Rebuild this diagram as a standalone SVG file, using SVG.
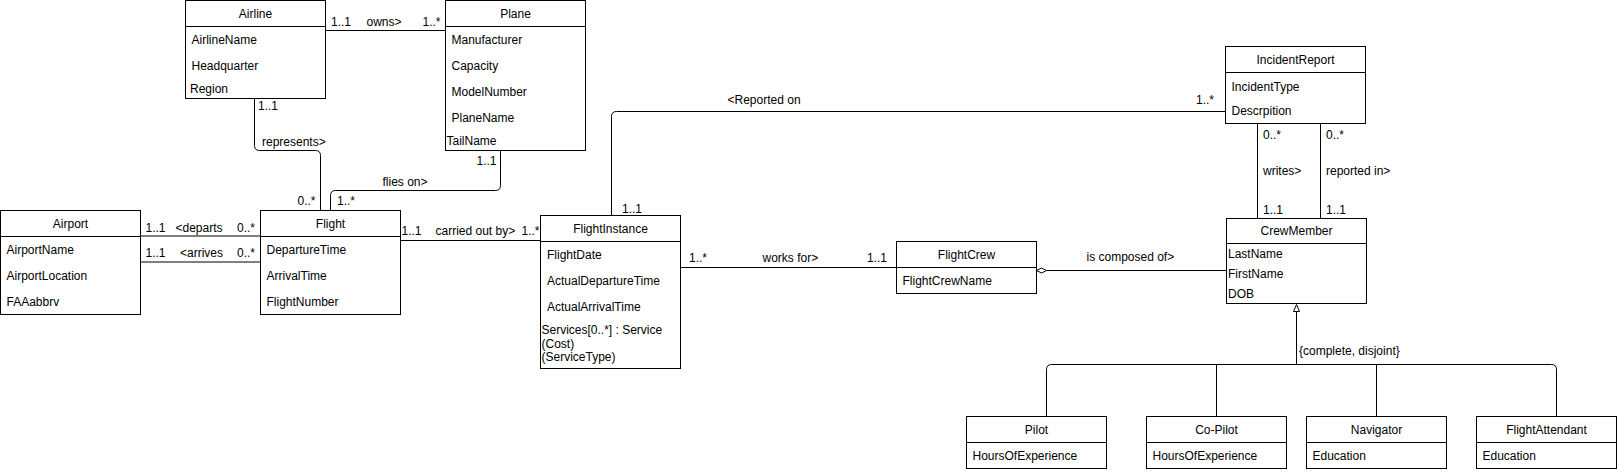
<svg xmlns="http://www.w3.org/2000/svg" width="1617" height="472" viewBox="0 0 1617 472">
<style>
text{font-family:"Liberation Sans",Arial,Helvetica,sans-serif;font-size:12px;fill:#000}
.t{text-anchor:middle}
.box{fill:#fff;stroke:#000;stroke-width:1}
.ln{fill:none;stroke:#000;stroke-width:1}
</style>
<rect width="1617" height="472" fill="#fff"/>
<g id="connectors">
  <!-- owns -->
  <path class="ln" d="M325.5 30.5H445.5"/>
  <text x="331" y="26">1..1</text><text x="366.5" y="26">owns&gt;</text><text x="422.5" y="26">1..*</text>
  <!-- represents -->
  <path class="ln" d="M254.5 98.5V145.5Q254.5 150.5 259.5 150.5H315.5Q320.5 150.5 320.5 155.5V210.5"/>
  <text x="258" y="110">1..1</text><text x="262" y="145.5">represents&gt;</text><text x="297.5" y="205">0..*</text>
  <!-- flies on -->
  <path class="ln" d="M500.5 150.5V185.5Q500.5 190.5 495.5 190.5H335.5Q330.5 190.5 330.5 195.5V210.5"/>
  <text x="476.5" y="165">1..1</text><text x="382.5" y="185.5">flies on&gt;</text><text x="337" y="205">1..*</text>
  <!-- departs -->
  <path class="ln" d="M140.5 236H260.5"/>
  <text x="145.5" y="231.5">1..1</text><text x="175.5" y="231.5">&lt;departs</text><text x="237" y="231.5">0..*</text>
  <!-- arrives -->
  <path class="ln" d="M140.5 262H260.5"/>
  <text x="145.5" y="256.5">1..1</text><text x="180" y="256.5">&lt;arrives</text><text x="237" y="256.5">0..*</text>
  <!-- carried out by -->
  <path class="ln" d="M400.5 240.5H540.5"/>
  <text x="401.5" y="234.5">1..1</text><text x="435.5" y="234.5">carried out by&gt;</text><text x="521.5" y="234.5">1..*</text>
  <!-- reported on -->
  <path class="ln" d="M611.5 215.5V116.5Q611.5 111.5 616.5 111.5H1225.5"/>
  <text x="727.5" y="104">&lt;Reported on</text><text x="1196" y="104">1..*</text><text x="622" y="212.5">1..1</text>
  <!-- works for -->
  <path class="ln" d="M680.5 267.5H896.5"/>
  <text x="689" y="261.5">1..*</text><text x="762.5" y="261.5">works for&gt;</text><text x="867" y="261.5">1..1</text>
  <!-- is composed of -->
  <path class="ln" d="M1046.5 270.5H1226.5"/>
  <path d="M1036.5 270.5L1041.5 268L1046.5 270.5L1041.5 273Z" fill="#fff" stroke="#000" stroke-width="1"/>
  <text x="1086.5" y="261">is composed of&gt;</text>
  <!-- writes -->
  <path class="ln" d="M1257.5 123.5V218.5"/>
  <text x="1263" y="139">0..*</text><text x="1263" y="175">writes&gt;</text><text x="1263" y="213.5">1..1</text>
  <!-- reported in -->
  <path class="ln" d="M1320.5 123.5V218.5"/>
  <text x="1326" y="139">0..*</text><text x="1326" y="175">reported in&gt;</text><text x="1326" y="213.5">1..1</text>
  <!-- generalization -->
  <path class="ln" d="M1296.5 311.5V364.5"/>
  <path d="M1296.5 304.5L1299.5 311.5H1293.5Z" fill="#fff" stroke="#000" stroke-width="1"/>
  <path class="ln" d="M1046.5 416.5V369.5Q1046.5 364.5 1051.5 364.5H1551.5Q1556.5 364.5 1556.5 369.5V416.5"/>
  <path class="ln" d="M1216.5 364.5V416.5M1376.5 364.5V416.5"/>
  <text x="1299" y="355">{complete, disjoint}</text>
</g>
<g id="Airline">
  <rect class="box" x="185.5" y="0.5" width="140" height="98"/>
  <path class="ln" d="M185.5 26.5H325.5"/>
  <text class="t" x="255.5" y="17.5">Airline</text>
  <text x="191.5" y="44">AirlineName</text><text x="191.5" y="70">Headquarter</text><text x="190" y="93">Region</text>
</g>
<g id="Plane">
  <rect class="box" x="445.5" y="0.5" width="140" height="150"/>
  <path class="ln" d="M445.5 26.5H585.5"/>
  <text class="t" x="515.5" y="17.5">Plane</text>
  <text x="451.5" y="44">Manufacturer</text><text x="451.5" y="70">Capacity</text><text x="451.5" y="96">ModelNumber</text><text x="451.5" y="122">PlaneName</text><text x="446.5" y="145">TailName</text>
</g>
<g id="Airport">
  <rect class="box" x="0.5" y="210.5" width="140" height="104"/>
  <path class="ln" d="M0.5 236.5H140.5"/>
  <text class="t" x="70.5" y="227.5">Airport</text>
  <text x="6.5" y="253.5">AirportName</text><text x="6.5" y="280">AirportLocation</text><text x="6.5" y="306">FAAabbrv</text>
</g>
<g id="Flight">
  <rect class="box" x="260.5" y="210.5" width="140" height="104"/>
  <path class="ln" d="M260.5 236.5H400.5"/>
  <text class="t" x="330.5" y="227.5">Flight</text>
  <text x="266.5" y="253.5">DepartureTime</text><text x="266.5" y="280">ArrivalTime</text><text x="266.5" y="306">FlightNumber</text>
</g>
<g id="FlightInstance">
  <rect class="box" x="540.5" y="215.5" width="140" height="153"/>
  <path class="ln" d="M540.5 241.5H680.5"/>
  <text class="t" x="610.5" y="232.5">FlightInstance</text>
  <text x="547" y="258.5">FlightDate</text><text x="547" y="285">ActualDepartureTime</text><text x="547" y="311">ActualArrivalTime</text>
  <text x="541.5" y="334">Services[0..*] : Service</text><text x="541.5" y="347.5">(Cost)</text><text x="541.5" y="361">(ServiceType)</text>
</g>
<g id="FlightCrew">
  <rect class="box" x="896.5" y="241.5" width="140" height="52"/>
  <path class="ln" d="M896.5 267.5H1036.5"/>
  <text class="t" x="966.5" y="258.5">FlightCrew</text>
  <text x="902.5" y="285">FlightCrewName</text>
</g>
<g id="IncidentReport">
  <rect class="box" x="1225.5" y="46.5" width="140" height="77"/>
  <path class="ln" d="M1225.5 72.5H1365.5"/>
  <text class="t" x="1295.5" y="63.5">IncidentReport</text>
  <text x="1231.5" y="91">IncidentType</text><text x="1231.5" y="115">Descrpition</text>
</g>
<g id="CrewMember">
  <rect class="box" x="1226.5" y="218.5" width="140" height="85"/>
  <path class="ln" d="M1226.5 243.5H1366.5"/>
  <text class="t" x="1296.5" y="235">CrewMember</text>
  <text x="1228" y="257.5">LastName</text><text x="1228" y="277.5">FirstName</text><text x="1228" y="297.5">DOB</text>
</g>
<g id="Pilot">
  <rect class="box" x="966.5" y="416.5" width="140" height="52"/>
  <path class="ln" d="M966.5 442.5H1106.5"/>
  <text class="t" x="1036.5" y="434">Pilot</text>
  <text x="972.5" y="460">HoursOfExperience</text>
</g>
<g id="CoPilot">
  <rect class="box" x="1146.5" y="416.5" width="140" height="52"/>
  <path class="ln" d="M1146.5 442.5H1286.5"/>
  <text class="t" x="1216.5" y="434">Co-Pilot</text>
  <text x="1152.5" y="460">HoursOfExperience</text>
</g>
<g id="Navigator">
  <rect class="box" x="1306.5" y="416.5" width="140" height="52"/>
  <path class="ln" d="M1306.5 442.5H1446.5"/>
  <text class="t" x="1376.5" y="434">Navigator</text>
  <text x="1312.5" y="460">Education</text>
</g>
<g id="FlightAttendant">
  <rect class="box" x="1476.5" y="416.5" width="140" height="52"/>
  <path class="ln" d="M1476.5 442.5H1616.5"/>
  <text class="t" x="1546.5" y="434">FlightAttendant</text>
  <text x="1482.5" y="460">Education</text>
</g>
</svg>
